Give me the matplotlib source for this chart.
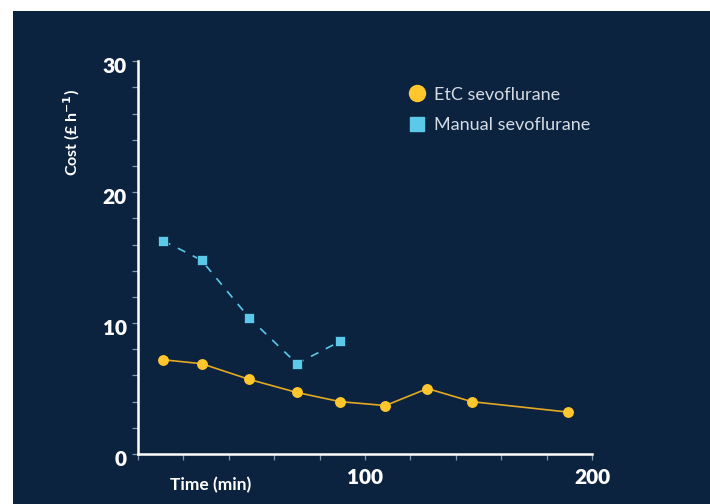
import matplotlib.pyplot as plt
import matplotlib.transforms as mtransforms
from matplotlib.lines import Line2D
from matplotlib.patches import Rectangle

# values
etc_time = [11, 28, 49, 70, 89, 109, 127.5, 147, 189.5]
etc_cost = [7.2, 6.9, 5.7, 4.7, 4.0, 3.7, 5.0, 4.0, 3.2]
man_time = [11, 28, 49, 70, 89]
man_cost = [16.3, 14.8, 10.4, 6.9, 8.6]

navy = "#0c2340"
gold = "#ffc72c"
gold_line = "#e3a923"
cyan = "#5bc9e8"
tick_grey = "#8797ab"

plt.rcParams["font.family"] = ["Lato", "DejaVu Sans"]

fig = plt.figure(figsize=(7.1, 5.04), dpi=100)
fig.patch.set_facecolor("white")
fig.patches.append(Rectangle((13 / 710, 0), 1, 1 - 11 / 504,
                             transform=fig.transFigure, facecolor=navy,
                             edgecolor="none", zorder=-10))

ax = fig.add_axes([138 / 710, 1 - 454 / 504, 454 / 710, (454 - 61.3) / 504])
ax.set_facecolor("none")

ax.plot(man_time, man_cost, color=cyan, lw=1.2, ls=(0, (5, 5)),
        marker="s", ms=6.5, mfc=cyan, mec=navy, mew=0.5, zorder=3)
ax.plot(etc_time, etc_cost, color=gold_line, lw=1.2,
        marker="o", ms=6.8, mfc=gold, mec=gold, zorder=4)

ax.set_xlim(0, 200)
ax.set_ylim(0, 30)
ax.set_xticks(range(0, 201, 20))
ax.set_xticklabels(["100" if t == 100 else "200" if t == 200 else "" for t in range(0, 201, 20)])
ax.set_yticks(range(0, 31, 2))
ax.set_yticklabels([str(t) if t % 10 == 0 else "" for t in range(0, 31, 2)])

for s in ["top", "right"]:
    ax.spines[s].set_visible(False)
for s in ["left", "bottom"]:
    ax.spines[s].set_color("white")
    ax.spines[s].set_linewidth(1.8)

ax.tick_params(axis="both", colors=tick_grey, length=4, width=0.9,
               labelcolor="white", labelsize=15)
ax.tick_params(axis="x", pad=6)
ax.tick_params(axis="y", pad=4)
for lab in ax.get_xticklabels() + ax.get_yticklabels():
    lab.set_fontweight("heavy")
# y labels sit a little below their ticks in the reference
shift = mtransforms.ScaledTranslation(0, -4 / 100, fig.dpi_scale_trans)
for lab in ax.get_yticklabels():
    lab.set_transform(lab.get_transform() + shift)

fig.text(71.5 / 710, 1 - 133 / 504, "Cost (£ h$^{\\mathbf{-1}}$)", rotation=90,
         ha="center", va="center", color="white", fontsize=11.5, fontweight="bold")
fig.text(211 / 710, 1 - 485 / 504, "Time (min)", ha="center", va="center",
         color="white", fontsize=12.5, fontweight="bold")

handles = [Line2D([], [], ls="none", marker="o", ms=11.5, mfc=gold, mec=gold),
           Line2D([], [], ls="none", marker="s", ms=10.5, mfc=cyan, mec=cyan)]
leg = ax.legend(handles, ["EtC sevoflurane", "Manual sevoflurane"],
                loc="upper left", bbox_to_anchor=(399 / 710, 1 - 77.5 / 504),
                bbox_transform=fig.transFigure, frameon=False,
                handlelength=1.0, handletextpad=0.45, labelspacing=0.8,
                fontsize=13, borderpad=0)
for t in leg.get_texts():
    t.set_color("#d5dbe3")

fig.savefig("out.png", dpi=100, facecolor=fig.get_facecolor())
